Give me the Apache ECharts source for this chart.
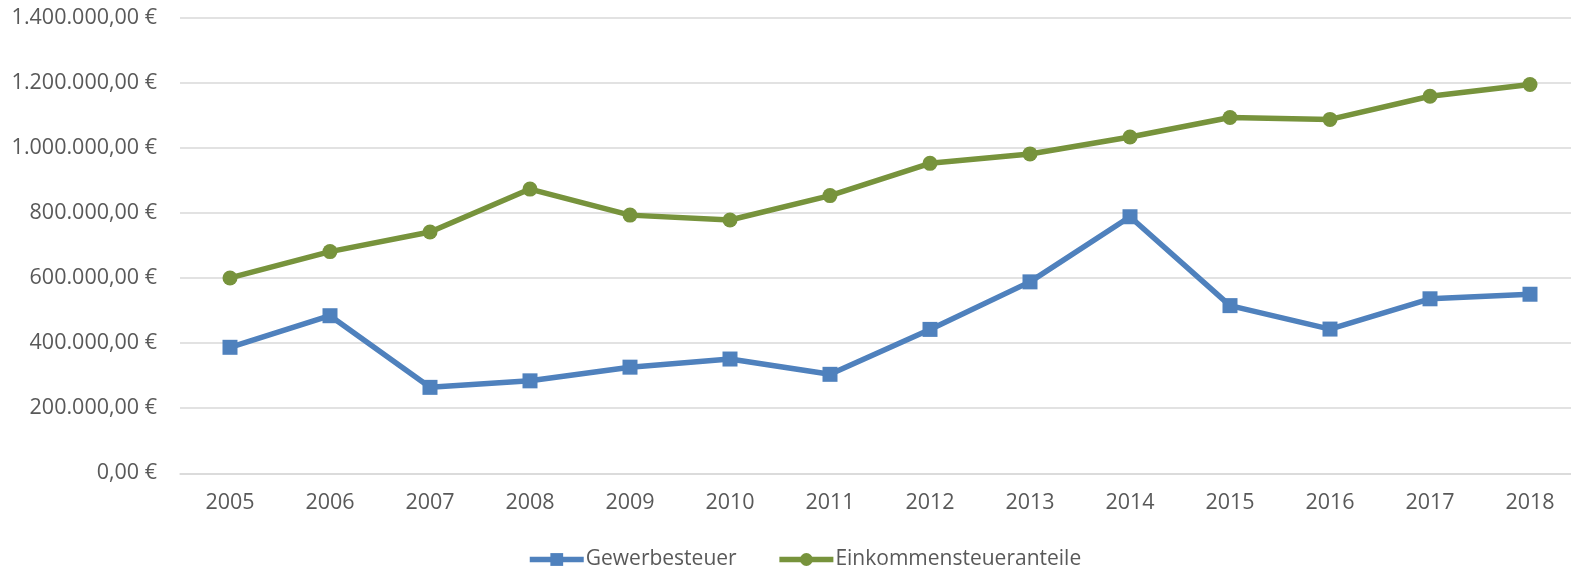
<!DOCTYPE html>
<html>
<head>
<meta charset="utf-8">
<script src="https://cdn.jsdelivr.net/npm/echarts@6/dist/echarts.min.js"></script>
<style>
  html, body { margin: 0; padding: 0; background: #ffffff; }
  #chart { width: 1571px; height: 572px; }
</style>
</head>
<body>
<div id="chart"></div>
<script>
// Jahre
const years = ['2005', '2006', '2007', '2008', '2009', '2010', '2011', '2012', '2013', '2014', '2015', '2016', '2017', '2018'];

// Einnahmen in Euro
const gewerbesteuer = [387000, 484000, 264000, 284000, 326000, 351000, 304000, 442000, 588000, 788000, 515000, 443000, 536000, 550000];
const einkommensteueranteile = [600000, 681000, 741000, 873000, 793000, 778000, 853000, 952000, 981000, 1033000, 1093000, 1087000, 1158000, 1194000];

// Achsenwerte
const yMin = 0;
const yMax = 1400000;
const yStep = 200000;

const seriesNames = ['Gewerbesteuer', 'Einkommensteueranteile'];

// Zahl im deutschen Format mit zwei Nachkommastellen und Euro-Zeichen
function euro(v) {
  const fixed = Math.abs(v).toFixed(2);
  const parts = fixed.split('.');
  const intPart = parts[0].replace(/\B(?=(\d{3})+(?!\d))/g, '.');
  return (v < 0 ? '-' : '') + intPart + ',' + parts[1] + ' €';
}

const FONT = '"Open Sans", "Noto Sans", sans-serif';
const TEXT = '#595959';

const chart = echarts.init(document.getElementById('chart'), null, { renderer: 'canvas' });

chart.setOption({
  animation: false,
  backgroundColor: '#ffffff',
  // the plot area runs slightly past the right edge of the canvas
  grid: { left: 180, width: 1400, top: 17.5, bottom: 98.7, containLabel: false, outerBoundsMode: 'none' },
  legend: {
    top: 544,
    left: 522,
    itemWidth: 54,
    itemHeight: 16,
    itemGap: 40,
    lineStyle: { width: 'inherit' },
    textStyle: { color: TEXT, fontSize: 21, fontFamily: FONT, padding: [0, 0, 0, -3] },
    data: seriesNames
  },
  xAxis: {
    type: 'category',
    data: years,
    boundaryGap: true,
    axisLine: { show: true, lineStyle: { color: '#D9D9D9', width: 1.5 } },
    axisTick: { show: false },
    axisLabel: { color: TEXT, fontSize: 21.5, fontFamily: FONT, margin: 19 },
    splitLine: { show: false }
  },
  yAxis: {
    type: 'value',
    min: yMin,
    max: yMax,
    interval: yStep,
    axisLine: { show: false },
    axisTick: { show: false },
    axisLabel: { color: TEXT, fontSize: 21.5, fontFamily: FONT, margin: 23, formatter: euro },
    splitLine: { show: true, lineStyle: { color: '#D9D9D9', width: 1.5 } }
  },
  series: [
    {
      name: seriesNames[0],
      type: 'line',
      data: gewerbesteuer,
      symbol: 'rect',
      symbolSize: 15,
      lineStyle: { color: '#4F81BD', width: 5.5 },
      itemStyle: { color: '#4F81BD' },
      z: 3
    },
    {
      name: seriesNames[1],
      type: 'line',
      data: einkommensteueranteile,
      symbol: 'circle',
      symbolSize: 15,
      lineStyle: { color: '#77933C', width: 5.5 },
      itemStyle: { color: '#77933C' },
      z: 3
    }
  ]
});
</script>
</body>
</html>
